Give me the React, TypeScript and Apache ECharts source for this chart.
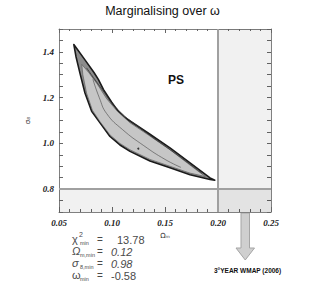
import React, { useEffect, useRef } from "react";
import * as echarts from "echarts";

const titleText = "Marginalising over ω";
const regionLabel = "PS";
const xRange = [0.05, 0.25];
const yRange = [0.7, 1.5];
const priorSigma8 = 0.8;
const priorOmega = 0.2;

const outerUpper: number[][] = [
  [0.064, 1.432], [0.0745, 1.365], [0.083, 1.31], [0.0871, 1.28], [0.092, 1.235],
  [0.0997, 1.18], [0.106, 1.14], [0.1123, 1.112], [0.117, 1.098], [0.1358, 1.04],
  [0.1547, 0.98], [0.1736, 0.915], [0.1925, 0.849], [0.197, 0.839],
];
const outerLower: number[][] = [
  [0.197, 0.839], [0.1925, 0.842], [0.1736, 0.863], [0.1547, 0.893], [0.1358, 0.923],
  [0.117, 0.965], [0.1075, 0.993], [0.0981, 1.03], [0.0887, 1.09], [0.0808, 1.14],
  [0.0745, 1.22], [0.0698, 1.306], [0.066, 1.38], [0.064, 1.432],
];
const innerUpper: number[][] = [
  [0.0715, 1.345], [0.078, 1.31], [0.086, 1.26], [0.095, 1.195], [0.105, 1.14],
  [0.117, 1.09], [0.1358, 1.032], [0.1547, 0.972], [0.1736, 0.905], [0.188, 0.855],
];
const innerLower: number[][] = [
  [0.188, 0.855], [0.1736, 0.87], [0.1547, 0.9], [0.1358, 0.93], [0.117, 0.972],
  [0.1075, 1.0], [0.0981, 1.037], [0.0887, 1.095], [0.0815, 1.145], [0.076, 1.22],
  [0.0725, 1.3], [0.0715, 1.345],
];
const contourA: number[][] = [
  [0.076, 1.33], [0.09, 1.24], [0.105, 1.15], [0.13, 1.055], [0.16, 0.955], [0.185, 0.868],
];
const contourB: number[][] = [
  [0.082, 1.28], [0.088, 1.2], [0.095, 1.13], [0.11, 1.06], [0.13, 0.99], [0.15, 0.93], [0.165, 0.895],
];
const bestFit: number[][] = [[0.1248, 0.977]];

const statSymbols = ["χ", "Ω", "σ", "ω"];
const statSups = ["2", "", "", ""];
const statSubs = ["min", "m,min", "8,min", "min"];
const statValues = ["13.78", "0.12", "0.98", "-0.58"];
const statItalic = [false, true, true, false];
const wmapLabel = "3°YEAR WMAP (2006)";

export default function App() {
  const ref = useRef<HTMLDivElement>(null);
  useEffect(() => {
    if (!ref.current) return;
    const chart = echarts.init(ref.current, null, { renderer: "svg" });
    const polygonSeries = (pts: number[][], fill: string, stroke: string, lw: number, z: number) => ({
      type: "custom",
      coordinateSystem: "cartesian2d",
      xAxisIndex: 0,
      yAxisIndex: 0,
      data: [pts[0]],
      z,
      silent: true,
      renderItem: (_p: any, api: any) => ({
        type: "polygon",
        shape: { points: pts.map((p) => api.coord(p)) },
        style: { fill, stroke, lineWidth: lw, lineJoin: "round" },
      }),
    });
    const txt = "#4a4a4a";
    const rowY = [240, 252, 264, 276];
    const statGraphics: any[] = [];
    statSymbols.forEach((s, i) => {
      statGraphics.push({
        type: "text", left: 72, top: rowY[i] - 7,
        style: { text: s, font: `${statItalic[i] ? "italic " : ""}11px 'Liberation Sans'`, fill: txt },
      });
      if (statSups[i]) {
        statGraphics.push({
          type: "text", left: 79, top: rowY[i] - 9,
          style: { text: statSups[i], font: "7px 'Liberation Sans'", fill: txt },
        });
      }
      statGraphics.push({
        type: "text", left: 80, top: rowY[i] + 0,
        style: { text: statSubs[i], font: "5.5px 'Liberation Sans'", fill: txt },
      });
      statGraphics.push({
        type: "text", left: 97, top: rowY[i] - 6,
        style: { text: "=", font: "10px 'Liberation Sans'", fill: txt },
      });
      statGraphics.push({
        type: "text", left: i === 0 ? 117 : 111, top: rowY[i] - 6,
        style: { text: statValues[i], font: `${statItalic[i] ? "italic " : ""}11px 'Liberation Sans'`, fill: txt },
      });
    });

    const axisCommon = {
      type: "value",
      splitLine: { show: false },
      axisLine: { show: true, lineStyle: { color: "#808080", width: 1 } },
    };
    const yLabel = (v: number) => {
      const k = v * 5;
      return Math.abs(k - Math.round(k)) < 1e-6 ? v.toFixed(1) : "";
    };
    chart.setOption({
      animation: false,
      grid: { left: 59, right: 54, top: 29, bottom: 93 },
      xAxis: [
        {
          ...axisCommon,
          min: xRange[0], max: xRange[1], interval: 0.05,
          position: "bottom",
          axisTick: { show: true, inside: true, length: 5, lineStyle: { color: "#666" } },
          minorTick: { show: true, splitNumber: 5, length: 3, lineStyle: { color: "#666" } },
          axisLabel: {
            formatter: (v: number) => v.toFixed(2), margin: 6,
            fontFamily: "Liberation Serif", fontStyle: "italic", fontWeight: "bold", fontSize: 9, color: "#222",
          },
          name: "Ωₘ", nameLocation: "middle", nameGap: 20,
          nameTextStyle: { fontFamily: "DejaVu Sans", fontSize: 7, color: "#333" },
        },
        {
          ...axisCommon,
          min: xRange[0], max: xRange[1], interval: 0.05,
          position: "top",
          axisTick: { show: true, inside: true, length: 4, lineStyle: { color: "#666" } },
          minorTick: { show: true, splitNumber: 5, length: 2, lineStyle: { color: "#666" } },
          axisLabel: { show: false },
        },
      ],
      yAxis: [
        {
          ...axisCommon,
          min: yRange[0], max: yRange[1], interval: 0.05,
          position: "left",
          axisTick: { show: true, inside: true, length: 4, lineStyle: { color: "#666" } },
          axisLabel: {
            formatter: yLabel, interval: 0, margin: 5, hideOverlap: false,
            fontFamily: "Liberation Serif", fontStyle: "italic", fontWeight: "bold", fontSize: 9, color: "#222",
          },
          name: "σ₈", nameLocation: "middle", nameGap: 16, nameRotate: 90,
          nameTextStyle: { fontFamily: "DejaVu Sans", fontSize: 7, color: "#333" },
        },
        {
          ...axisCommon,
          min: yRange[0], max: yRange[1], interval: 0.05,
          position: "right",
          axisTick: { show: true, inside: true, length: 4, lineStyle: { color: "#666" } },
          axisLabel: { show: false },
        },
      ],
      series: [
        {
          type: "line",
          data: [],
          xAxisIndex: 0,
          yAxisIndex: 0,
          z: 1,
          markArea: {
            silent: true,
            itemStyle: { color: "rgba(0,0,0,0.055)" },
            data: [
              [{ xAxis: xRange[0], yAxis: yRange[0] }, { xAxis: xRange[1], yAxis: priorSigma8 }],
              [{ xAxis: priorOmega, yAxis: yRange[0] }, { xAxis: xRange[1], yAxis: yRange[1] }],
            ],
          },
          markLine: {
            silent: true,
            symbol: "none",
            label: { show: false },
            lineStyle: { color: "#a0a0a0", width: 2, type: "solid" },
            data: [{ yAxis: priorSigma8 }, { xAxis: priorOmega }],
          },
        },
        polygonSeries([...outerUpper, ...outerLower], "#8c8c8c", "#1a1a1a", 1.6, 3),
        polygonSeries([...innerUpper, ...innerLower], "#c6c6c6", "#555", 0.6, 4),
        {
          type: "line", data: contourA, showSymbol: false, smooth: true, z: 5,
          lineStyle: { color: "#333", width: 0.8 }, silent: true,
        },
        {
          type: "line", data: contourB, showSymbol: false, smooth: true, z: 5,
          lineStyle: { color: "#444", width: 0.6 }, silent: true,
        },
        {
          type: "scatter", data: bestFit, symbolSize: 2, z: 6,
          itemStyle: { color: "#111" }, silent: true,
        },
      ],
      graphic: [
        {
          type: "text", left: "center", top: 4,
          style: { text: titleText, font: "500 12.5px 'Liberation Sans'", fill: "#111" },
        },
        {
          type: "text", left: 168, top: 74,
          style: { text: regionLabel, font: "bold 12px 'Liberation Sans'", fill: "#111" },
        },
        {
          type: "polygon",
          shape: {
            points: [[241, 213], [249.5, 213], [249.5, 248], [254.5, 248], [245.25, 260], [236, 248], [241, 248]],
          },
          style: { fill: "#cfcfcf", stroke: "#a5a5a5", lineWidth: 1 },
        },
        {
          type: "text", left: 214, top: 267,
          style: { text: wmapLabel, font: "bold 6.5px 'Liberation Sans'", fill: "#111" },
        },
        ...statGraphics,
      ],
    });
    return () => chart.dispose();
  }, []);
  return (
    <div
      ref={ref}
      style={{ position: "fixed", left: 0, top: 0, width: 325, height: 305, background: "#fff" }}
    />
  );
}
